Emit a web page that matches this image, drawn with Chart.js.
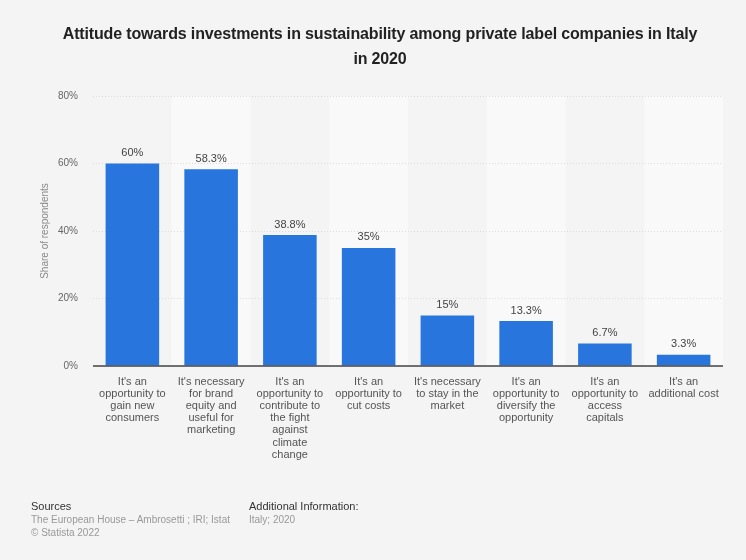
<!DOCTYPE html>
<html>
<head>
<meta charset="UTF-8">
<title>Attitude towards investments in sustainability</title>
<script src="https://cdn.jsdelivr.net/npm/chart.js"></script>
<style>
    body {
        margin: 0;
        background: #f4f4f4;
        font-family: "Liberation Sans", Arial, sans-serif;
    }
    .wrap {
        position: relative;
        width: 746px;
        height: 560px;
    }
    .title {
        position: absolute;
        top: 21px;
        left: 37px;
        width: 686px;
        text-align: center;
        font-size: 16px;
        font-weight: bold;
        letter-spacing: -0.15px;
        line-height: 25px;
        color: #222;
    }
    .chart-box {
        position: absolute;
        left: 0;
        top: 0;
        width: 746px;
        height: 560px;
    }
    .foot {
        position: absolute;
        top: 500px;
        font-size: 11px;
        line-height: 13px;
        color: #333;
    }
    .foot .muted {
        font-size: 10px;
        color: #999;
    }
</style>
</head>
<body>
<div class="wrap">
    <div class="chart-box"><canvas id="chart"></canvas></div>
    <div class="title">Attitude towards investments in sustainability among private label companies in Italy<br>in 2020</div>
    <div class="foot" style="left:31px">Sources<br><span class="muted">The European House – Ambrosetti ; IRI; Istat<br>© Statista 2022</span></div>
    <div class="foot" style="left:249px">Additional Information:<br><span class="muted">Italy; 2020</span></div>
</div>

<script>
    // categories (wrapped as they appear under the bars)
    const categories = [
        ["It's an", "opportunity to", "gain new", "consumers"],
        ["It's necessary", "for brand", "equity and", "useful for", "marketing"],
        ["It's an", "opportunity to", "contribute to", "the fight", "against", "climate", "change"],
        ["It's an", "opportunity to", "cut costs"],
        ["It's necessary", "to stay in the", "market"],
        ["It's an", "opportunity to", "diversify the", "opportunity"],
        ["It's an", "opportunity to", "access", "capitals"],
        ["It's an", "additional cost"]
    ];
    const shares = [60, 58.3, 38.8, 35, 15, 13.3, 6.7, 3.3];
    const valueLabels = ["60%", "58.3%", "38.8%", "35%", "15%", "13.3%", "6.7%", "3.3%"];
    const yTicks = [0, 20, 40, 60, 80];

    // alternating column bands behind the bars
    const bandPlugin = {
        id: 'bands',
        beforeDraw(chart) {
            const { ctx, chartArea, scales } = chart;
            const step = scales.x.getPixelForValue(1) - scales.x.getPixelForValue(0);
            ctx.save();
            ctx.fillStyle = '#f9f9f9';
            for (let i = 1; i < categories.length; i += 2) {
                const cx = scales.x.getPixelForValue(i);
                ctx.fillRect(cx - step / 2, chartArea.top, step, chartArea.bottom - chartArea.top);
            }
            ctx.restore();
        }
    };

    // value labels above each bar
    const valuePlugin = {
        id: 'values',
        afterDatasetsDraw(chart) {
            const { ctx } = chart;
            const meta = chart.getDatasetMeta(0);
            ctx.save();
            ctx.font = '11px "Liberation Sans", Arial, sans-serif';
            ctx.fillStyle = '#444';
            ctx.textAlign = 'center';
            ctx.textBaseline = 'bottom';
            meta.data.forEach((bar, i) => {
                ctx.fillText(valueLabels[i], bar.x, bar.y - 5);
            });
            ctx.restore();
        }
    };

    // dark baseline at 0%
    const baselinePlugin = {
        id: 'baseline',
        afterDatasetsDraw(chart) {
            const { ctx, chartArea, scales } = chart;
            const y = scales.y.getPixelForValue(0);
            ctx.save();
            ctx.strokeStyle = '#444';
            ctx.lineWidth = 1.5;
            ctx.beginPath();
            ctx.moveTo(chartArea.left, y);
            ctx.lineTo(chartArea.right, y);
            ctx.stroke();
            ctx.restore();
        }
    };

    new Chart(document.getElementById('chart'), {
        type: 'bar',
        data: {
            labels: categories,
            datasets: [{
                data: shares,
                backgroundColor: '#2876dd',
                borderWidth: 0,
                barPercentage: 0.68,
                categoryPercentage: 1
            }]
        },
        options: {
            responsive: true,
            maintainAspectRatio: false,
            animation: false,
            layout: { padding: { top: 96, right: 23, bottom: 64, left: 0 } },
            plugins: {
                legend: { display: false },
                tooltip: { enabled: false }
            },
            scales: {
                x: {
                    grid: { display: false, drawTicks: false },
                    border: { display: false },
                    ticks: {
                        color: '#555',
                        font: { size: 11, family: '"Liberation Sans", Arial, sans-serif', lineHeight: 1.1 },
                        padding: 10,
                        maxRotation: 0,
                        autoSkip: false
                    },
                    afterFit(scale) { scale.height = 130; }
                },
                y: {
                    min: 0,
                    max: 80,
                    afterBuildTicks(scale) { scale.ticks = yTicks.map(v => ({ value: v })); },
                    grid: {
                        color: '#dcdcdc',
                        lineWidth: 1,
                        drawTicks: false
                    },
                    border: { display: false, dash: [1, 2] },
                    ticks: {
                        color: '#666',
                        font: { size: 10, family: '"Liberation Sans", Arial, sans-serif' },
                        padding: 15,
                        callback: v => v + '%'
                    },
                    title: {
                        display: true,
                        text: 'Share of respondents',
                        color: '#888',
                        font: { size: 10, family: '"Liberation Sans", Arial, sans-serif' },
                        padding: { top: 39, bottom: 0 }
                    },
                    afterFit(scale) { scale.width = 93; }
                }
            }
        },
        plugins: [bandPlugin, valuePlugin, baselinePlugin]
    });
</script>
</body>
</html>
